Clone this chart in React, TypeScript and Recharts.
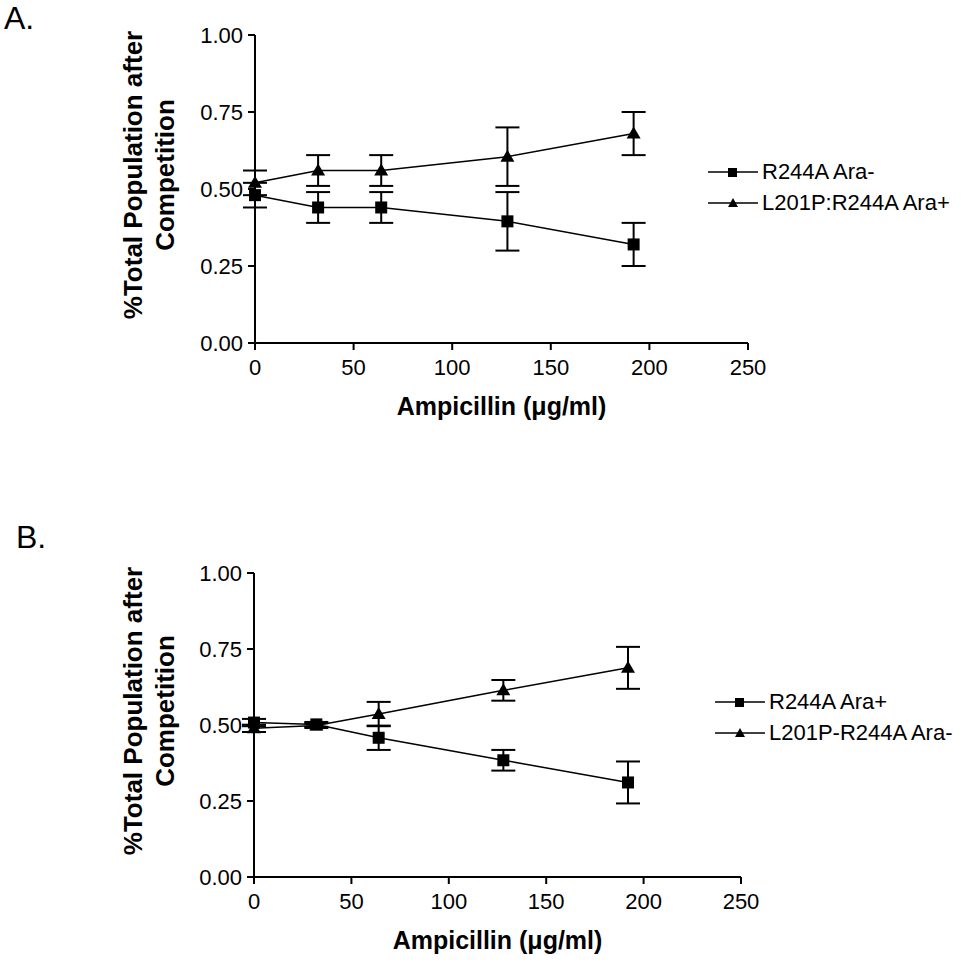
import { LineChart, Line, XAxis, YAxis, ErrorBar } from "recharts";

const doses = [0, 32, 64, 128, 192];
const xTicks = [0, 50, 100, 150, 200, 250];
const yTicks = [0, 0.25, 0.5, 0.75, 1];

// panel A
const aSquareLabel = "R244A Ara-";
const aSquare = [0.48, 0.44, 0.44, 0.395, 0.32];
const aSquareErr = [0.04, 0.05, 0.05, 0.095, 0.07];
const aTriangleLabel = "L201P:R244A Ara+";
const aTriangle = [0.52, 0.56, 0.56, 0.605, 0.68];
const aTriangleErr = [0.04, 0.05, 0.05, 0.095, 0.07];

// panel B
const bSquareLabel = "R244A Ara+";
const bSquare = [0.508, 0.502, 0.458, 0.384, 0.311];
const bSquareErr = [0.012, 0.008, 0.04, 0.034, 0.069];
const bTriangleLabel = "L201P-R244A Ara-";
const bTriangle = [0.489, 0.498, 0.536, 0.614, 0.688];
const bTriangleErr = [0.012, 0.008, 0.04, 0.034, 0.069];

const FONT = "'Liberation Sans', Arial, sans-serif";

const buildRows = (sq: number[], sqErr: number[], tri: number[], triErr: number[]) =>
  doses.map((d, i) => ({ dose: d, sq: sq[i], sqErr: sqErr[i], tri: tri[i], triErr: triErr[i] }));

const SquareDot = (p: any) => {
  if (p.cx == null || p.cy == null) return <g key={p.index} />;
  return <rect key={p.index} x={p.cx - 6} y={p.cy - 6} width={12} height={12} fill="#000" />;
};

const TriangleDot = (p: any) => {
  if (p.cx == null || p.cy == null) return <g key={p.index} />;
  const { cx, cy } = p;
  return <path key={p.index} d={`M${cx},${cy - 7} L${cx + 7},${cy + 5} L${cx - 7},${cy + 5} Z`} fill="#000" />;
};

const YTitle = ({ viewBox }: any) => {
  const x0 = 142;
  const cy = viewBox.y + viewBox.height / 2 - 14;
  return (
    <text
      x={x0}
      y={cy}
      transform={`rotate(-90, ${x0}, ${cy})`}
      textAnchor="middle"
      fontFamily={FONT}
      fontWeight="bold"
      fontSize={26}
      fill="#000"
    >
      <tspan x={x0}>%Total Population after</tspan>
      <tspan x={x0} dy={32}>Competition</tspan>
    </text>
  );
};

const XTitle = ({ viewBox }: any) => (
  <text
    x={viewBox.x + viewBox.width / 2}
    y={viewBox.y + 72}
    textAnchor="middle"
    fontFamily={FONT}
    fontWeight="bold"
    fontSize={25}
    fill="#000"
  >
    Ampicillin (μg/ml)
  </text>
);

const LegendBox = ({ labels, left, top }: { labels: string[]; left: number; top: number }) => (
  <div style={{ position: "absolute", left, top, fontFamily: FONT, fontSize: 22, color: "#000" }}>
    {labels.map((lab, i) => (
      <div key={lab} style={{ display: "flex", alignItems: "center", height: 31, whiteSpace: "nowrap" }}>
        <svg width={52} height={16} style={{ marginRight: 2 }}>
          <line x1={0} y1={8} x2={50} y2={8} stroke="#000" strokeWidth={1.5} />
          {i === 0 ? (
            <rect x={20} y={4} width={9} height={9} fill="#000" />
          ) : (
            <path d="M25,3 L30,12 L20,12 Z" fill="#000" />
          )}
        </svg>
        <span>{lab}</span>
      </div>
    ))}
  </div>
);

interface PanelProps {
  top: number;
  height: number;
  plotTop: number;
  axisWidth: number;
  plotRight: number;
  rows: any[];
  xAxisHeight: number;
}

function Panel({ top, height, plotTop, axisWidth, plotRight, rows, xAxisHeight }: PanelProps) {
  return (
    <div style={{ position: "absolute", left: 0, top }}>
      <LineChart
        width={975}
        height={height}
        data={rows}
        margin={{ top: plotTop, right: 975 - plotRight, left: 0, bottom: 0 }}
      >
        <XAxis
          dataKey="dose"
          type="number"
          domain={[0, 250]}
          ticks={xTicks}
          height={xAxisHeight}
          stroke="#000"
          strokeWidth={2}
          tickSize={7}
          tickMargin={9}
          tick={{ fill: "#000", fontSize: 22, fontFamily: FONT }}
          label={<XTitle />}
        />
        <YAxis
          type="number"
          domain={[0, 1]}
          ticks={yTicks}
          width={axisWidth}
          stroke="#000"
          strokeWidth={2}
          tickSize={7}
          tickMargin={5}
          tickFormatter={(v: number) => v.toFixed(2)}
          tick={{ fill: "#000", fontSize: 22, fontFamily: FONT }}
          label={<YTitle />}
        />
        <Line
          dataKey="sq"
          stroke="#000"
          strokeWidth={1.5}
          dot={SquareDot}
          activeDot={false}
          isAnimationActive={false}
        >
          <ErrorBar dataKey="sqErr" width={12} stroke="#000" strokeWidth={2} isAnimationActive={false} />
        </Line>
        <Line
          dataKey="tri"
          stroke="#000"
          strokeWidth={1.5}
          dot={TriangleDot}
          activeDot={false}
          isAnimationActive={false}
        >
          <ErrorBar dataKey="triErr" width={12} stroke="#000" strokeWidth={2} isAnimationActive={false} />
        </Line>
      </LineChart>
    </div>
  );
}

export default function App() {
  return (
    <div style={{ position: "absolute", left: 0, top: 0, width: 975, height: 972, background: "#fff", overflow: "hidden" }}>
      <div style={{ position: "absolute", left: 4, top: 2, fontFamily: FONT, fontSize: 32, lineHeight: "32px" }}>A.</div>
      <div style={{ position: "absolute", left: 16, top: 521, fontFamily: FONT, fontSize: 32, lineHeight: "32px" }}>B.</div>
      <Panel
        top={0}
        height={440}
        plotTop={35}
        axisWidth={255}
        plotRight={748}
        rows={buildRows(aSquare, aSquareErr, aTriangle, aTriangleErr)}
        xAxisHeight={97}
      />
      <Panel
        top={540}
        height={430}
        plotTop={33}
        axisWidth={254}
        plotRight={741}
        rows={buildRows(bSquare, bSquareErr, bTriangle, bTriangleErr)}
        xAxisHeight={93}
      />
      <LegendBox labels={[aSquareLabel, aTriangleLabel]} left={708} top={156} />
      <LegendBox labels={[bSquareLabel, bTriangleLabel]} left={715} top={686} />
    </div>
  );
}
